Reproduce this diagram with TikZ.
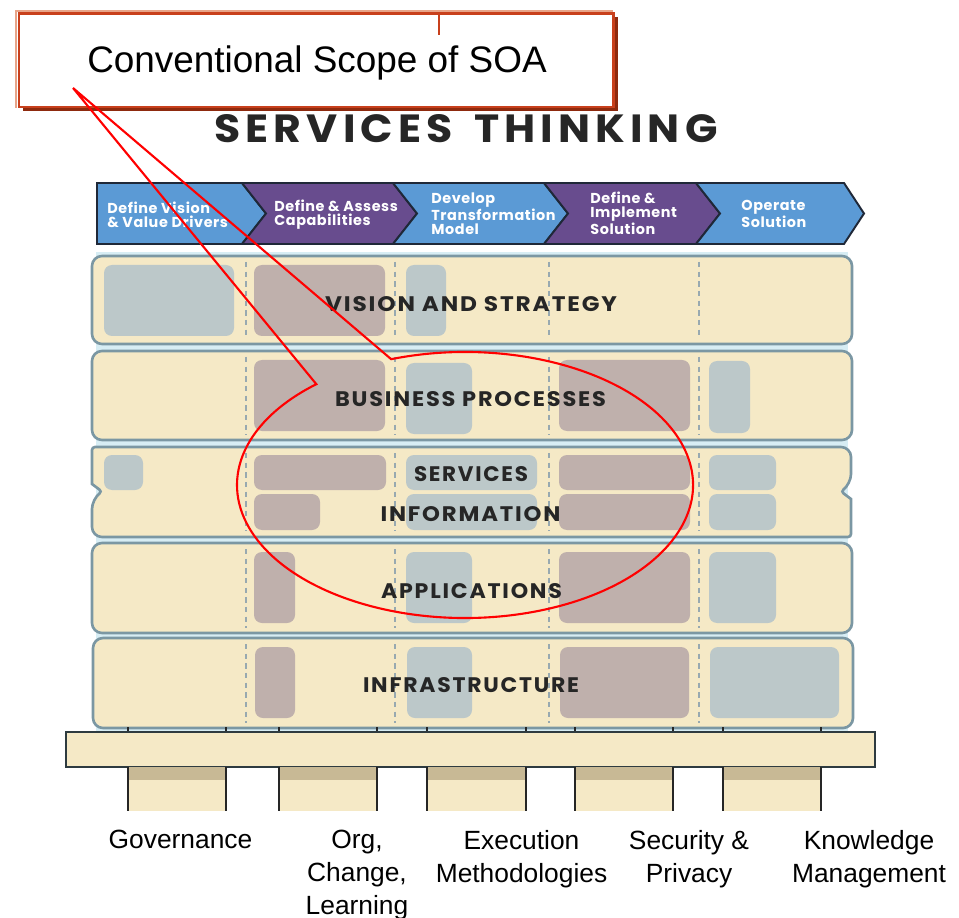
\documentclass[tikz,border=0pt]{standalone}
\usepackage{fontspec}
\usepackage{graphicx}
\setmainfont{Liberation Sans}
\newfontfamily\headfont{Poppins}

\definecolor{cream}{HTML}{F5E9C6}
\definecolor{rowline}{HTML}{7B97A3}
\definecolor{glow}{HTML}{D7EDF4}
\definecolor{divgrey}{HTML}{98A9B0}
\definecolor{greybox}{HTML}{BCC8C9}
\definecolor{mauvebox}{HTML}{BFB0AC}
\definecolor{phaseblue}{HTML}{5B9AD5}
\definecolor{phasepurple}{HTML}{684C8E}
\definecolor{phaseedge}{HTML}{1F2838}
\definecolor{calloutred}{HTML}{C8401C}
\definecolor{calloutlight}{HTML}{E8A488}
\definecolor{calloutshadow}{HTML}{8E2A0E}
\definecolor{inkdark}{HTML}{262626}
\definecolor{slabedge}{HTML}{2E3B40}
\definecolor{pillarband}{HTML}{C8B995}

% caps text squeezed to a given width and cap height
\newcommand{\capsfit}[4][8]{\resizebox{#2}{#3}{\headfont\bfseries\addfontfeatures{LetterSpace=#1}#4}}

\tikzset{
  phase/.style={draw=phaseedge, line width=1.1pt},
  phasetext/.style={anchor=west, align=left, text=white, inner sep=0,
    font=\headfont\bfseries\addfontfeatures{LetterSpace=4}\fontsize{8.2}{8.1}\selectfont},
  row/.style={draw=rowline, fill=cream, line width=1.5pt, rounded corners=0.2cm},
  gbox/.style={fill=greybox, rounded corners=0.16cm},
  mbox/.style={fill=mauvebox, rounded corners=0.16cm},
  divider/.style={draw=divgrey, dash pattern=on 3pt off 2.5pt, line width=0.6pt},
  layerlabel/.style={inner sep=0, text=inkdark},
  slab/.style={draw=slabedge, fill=cream, line width=1.4pt},
  post/.style={draw=inkdark, line width=1.2pt},
  pillarlabel/.style={anchor=north, align=center, inner sep=0,
    font=\fontsize{15}{18.7}\selectfont},
  calloutbox/.style={draw=calloutred, fill=white, line width=1.7pt},
  callouttext/.style={anchor=base, inner sep=0, font=\fontsize{21}{25}\selectfont},
  scopeline/.style={draw=red, line width=1.2pt}
}

\begin{document}
\begin{tikzpicture}[x=0.02cm, y=-0.02cm]
  \useasboundingbox (0,0) rectangle (959,918);

  % callout box
  \draw[calloutlight, line width=1pt] (16,108) -- (16,11) -- (613,11);
  \fill[calloutshadow] (23,17) rectangle (618,111);
  \draw[calloutbox] (19,13.5) rectangle (613,107);
  \draw[calloutred, line width=1pt] (439,13) -- (439,35);
  \node[callouttext] (scope) at (317,73) {Conventional Scope of SOA};

  % title
  \node[layerlabel] (title) at (466,129) {\capsfit[12]{10.06cm}{0.56cm}{SERVICES\hspace{0.5em}THINKING}};

  % phase bar
  \filldraw[phase, fill=phaseblue] (97,183) -- (242,183) -- (266,213.5) -- (242,244) -- (97,244) -- cycle;
  \filldraw[phase, fill=phasepurple] (242,183) -- (393,183) -- (417,213.5) -- (393,244) -- (242,244) -- (266,213.5) -- cycle;
  \filldraw[phase, fill=phaseblue] (393,183) -- (544,183) -- (568,213.5) -- (544,244) -- (393,244) -- (417,213.5) -- cycle;
  \filldraw[phase, fill=phasepurple] (544,183) -- (696,183) -- (720,213.5) -- (696,244) -- (544,244) -- (568,213.5) -- cycle;
  \filldraw[phase, fill=phaseblue] (696,183) -- (844,183) -- (864,213.5) -- (844,244) -- (696,244) -- (720,213.5) -- cycle;
  \node[phasetext] (p1) at (107,214.5) {Define Vision\\\& Value Drivers};
  \node[phasetext] (p2) at (274,215) {Define \& Assess\\Capabilities};
  \node[phasetext] (p3) at (431,214) {Develop\\Transformation\\Model};
  \node[phasetext] (p4) at (590,213.5) {Define \&\\Implement\\Solution};
  \node[phasetext] (p5) at (741,214) {Operate\\Solution};

  % layers
  \fill[glow] (96,252) rectangle (848,733);
  \draw[row] (92,256) rectangle (852,344);
  \draw[row] (92,351) rectangle (852,440);
  \draw[row] (470,447) -- (851,447) -- (851,484) [rounded corners=0.06cm] -- (841,491.5)
    [sharp corners] -- (851,499) [rounded corners=0.06cm] -- (851,537) [rounded corners=0.2cm]
    -- (92,537) -- (92,499) [rounded corners=0.06cm] -- (102,491.5) [sharp corners]
    -- (92,484) [rounded corners=0.06cm] -- (92,447) [rounded corners=0.2cm] -- cycle;
  \draw[row] (92,543) rectangle (852,633);
  \draw[row] (93,638) rectangle (853,728);

  \foreach \x in {246,395,549,699}
    \draw[divider] (\x,262) -- (\x,339) (\x,357) -- (\x,435) (\x,453) -- (\x,531)
      (\x,549) -- (\x,628) (\x,644) -- (\x,723);

  \fill[gbox] (104,265) rectangle (234,336);
  \fill[mbox] (254,265) rectangle (385,336);
  \fill[gbox] (406,265) rectangle (446,336);

  \fill[mbox] (254,360) rectangle (385,431);
  \fill[gbox] (406,363) rectangle (472,434);
  \fill[mbox] (559,360) rectangle (690,431);
  \fill[gbox] (709,361) rectangle (750,433);

  \fill[gbox] (104,455) rectangle (143,490);
  \fill[mbox] (254,455) rectangle (386,490);
  \fill[gbox] (406,455) rectangle (537,490);
  \fill[mbox] (559,455) rectangle (690,490);
  \fill[gbox] (709,455) rectangle (776,490);
  \fill[mbox] (254,494) rectangle (320,530);
  \fill[gbox] (406,494) rectangle (537,530);
  \fill[mbox] (559,494) rectangle (690,530);
  \fill[gbox] (709,494) rectangle (776,530);

  \fill[mbox] (254,552) rectangle (295,623);
  \fill[gbox] (406,552) rectangle (472,623);
  \fill[mbox] (559,552) rectangle (690,623);
  \fill[gbox] (709,552) rectangle (776,623);

  \fill[mbox] (255,647) rectangle (295,718);
  \fill[gbox] (407,647) rectangle (472,718);
  \fill[mbox] (560,647) rectangle (689,718);
  \fill[gbox] (710,647) rectangle (839,718);

  \node[layerlabel] (vision) at (471,304.5) {\capsfit{5.84cm}{0.3cm}{VISION AND STRATEGY}};
  \node[layerlabel] (business) at (470.5,399) {\capsfit{5.42cm}{0.3cm}{BUSINESS PROCESSES}};
  \node[layerlabel] (services) at (471,474.5) {\capsfit{2.28cm}{0.3cm}{SERVICES}};
  \node[layerlabel] (information) at (470.5,514.5) {\capsfit{3.6cm}{0.3cm}{INFORMATION}};
  \node[layerlabel] (applications) at (471.5,591) {\capsfit{3.62cm}{0.3cm}{APPLICATIONS}};
  \node[layerlabel] (infrastructure) at (471,685) {\capsfit{4.32cm}{0.3cm}{INFRASTRUCTURE}};

  % base and pillars
  \foreach \x in {128,226,279,377,427,526,575,673,723,821}
    \draw[post, line width=0.8pt] (\x,727) -- (\x,733);
  \draw[slab] (66,732) rectangle (875,767);
  \foreach \l/\r in {128/226,279/377,427/526,575/673,723/821} {
    \fill[cream] (\l,767) rectangle (\r,811);
    \fill[pillarband] (\l,767) rectangle (\r,780);
    \draw[post] (\l,767) -- (\l,811) (\r,767) -- (\r,811);
  }
  \node[pillarlabel] (gov) at (180.5,830) {Governance};
  \node[pillarlabel] (org) at (357,830) {Org,\\Change,\\Learning};
  \node[pillarlabel] (exec) at (521.5,830) {Execution\\Methodologies};
  \node[pillarlabel] (sec) at (689,830) {Security \&\\Privacy};
  \node[pillarlabel] (know) at (869,830) {Knowledge\\Management};

  % scope ellipse with pointer
  \coordinate (tip) at (73,88);
  \coordinate (ctr) at (465,485);
  \draw[scopeline] (ctr) ++(-108.9:228 and 133)
    arc[start angle=-108.9, end angle=229.3, x radius=228, y radius=133] -- (tip) -- cycle;
\end{tikzpicture}
\end{document}
